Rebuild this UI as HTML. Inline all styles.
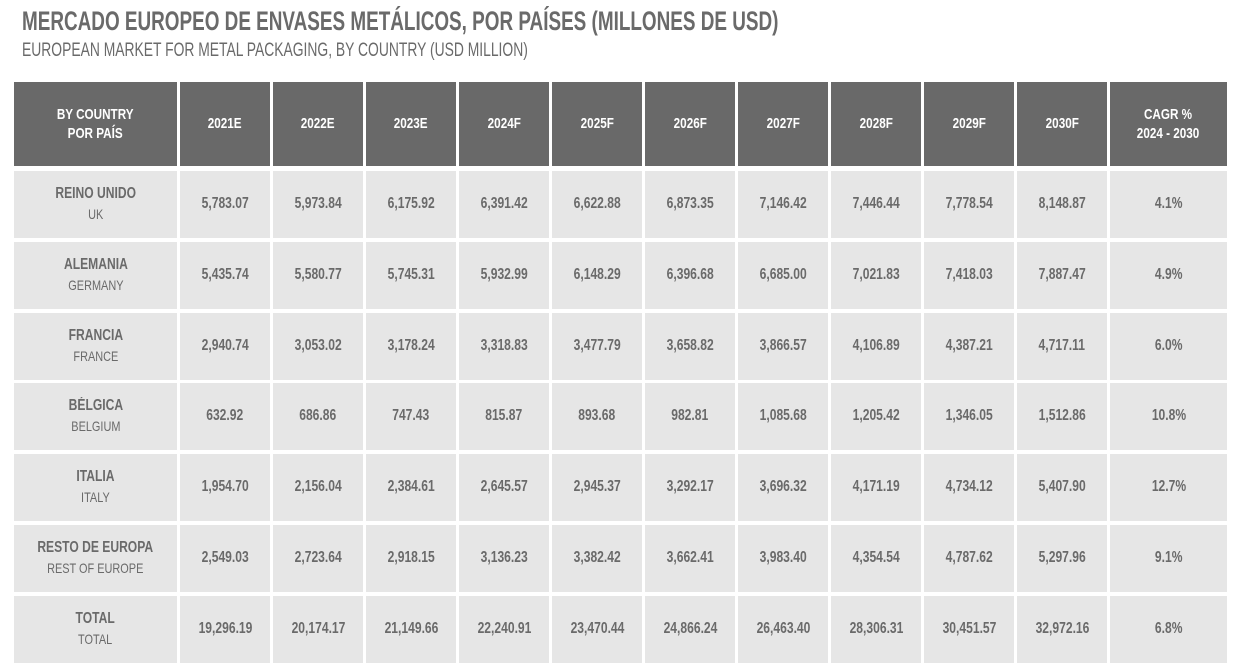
<!DOCTYPE html>
<html><head><meta charset="utf-8">
<style>
body{margin:0;width:1236px;height:670px;background:#fff;position:relative;overflow:hidden;font-family:"Liberation Sans",sans-serif;}
.t{position:absolute;left:22px;white-space:nowrap;transform-origin:0 0;color:#6a6a6a;}
.c{position:absolute;display:flex;align-items:center;justify-content:center;text-align:center;overflow:visible;}
.c span{display:inline-block;transform:scaleX(0.78);white-space:nowrap;line-height:1.3;}
.h{background:#696969;color:#fff;font-weight:bold;font-size:15px;}
.d{background:#e6e6e6;color:#6a6a6a;font-weight:bold;font-size:15.5px;}
.sub{font-weight:normal;font-size:14px;}
</style></head><body>
<div class="t" style="top:6px;font-size:27px;font-weight:bold;transform:scaleX(0.70);">MERCADO EUROPEO DE ENVASES METÁLICOS, POR PAÍSES (MILLONES DE USD)</div>
<div class="t" style="top:40px;font-size:19px;transform:scaleX(0.73);">EUROPEAN MARKET FOR METAL PACKAGING, BY COUNTRY (USD MILLION)</div>
<div id="tbl"></div>
<script>
const years=["2021E","2022E","2023E","2024F","2025F","2026F","2027F","2028F","2029F","2030F"];
const countriesEs=["REINO UNIDO","ALEMANIA","FRANCIA","BÉLGICA","ITALIA","RESTO DE EUROPA","TOTAL"];
const countriesEn=["UK","GERMANY","FRANCE","BELGIUM","ITALY","REST OF EUROPE","TOTAL"];
const values=[
["5,783.07","5,973.84","6,175.92","6,391.42","6,622.88","6,873.35","7,146.42","7,446.44","7,778.54","8,148.87"],
["5,435.74","5,580.77","5,745.31","5,932.99","6,148.29","6,396.68","6,685.00","7,021.83","7,418.03","7,887.47"],
["2,940.74","3,053.02","3,178.24","3,318.83","3,477.79","3,658.82","3,866.57","4,106.89","4,387.21","4,717.11"],
["632.92","686.86","747.43","815.87","893.68","982.81","1,085.68","1,205.42","1,346.05","1,512.86"],
["1,954.70","2,156.04","2,384.61","2,645.57","2,945.37","3,292.17","3,696.32","4,171.19","4,734.12","5,407.90"],
["2,549.03","2,723.64","2,918.15","3,136.23","3,382.42","3,662.41","3,983.40","4,354.54","4,787.62","5,297.96"],
["19,296.19","20,174.17","21,149.66","22,240.91","23,470.44","24,866.24","26,463.40","28,306.31","30,451.57","32,972.16"]];
const cagr=["4.1%","4.9%","6.0%","10.8%","12.7%","9.1%","6.8%"];
const T=document.getElementById('tbl');
function cell(cls,x,y,w,h,html,name){
  const d=document.createElement('div');
  d.className='c '+cls;
  d.style.cssText=`left:${x}px;top:${y}px;width:${w}px;height:${h}px`;
  d.innerHTML='<span>'+html+'</span>';
  
  
  T.appendChild(d);
}
const colX=i=>180+i*93;
cell('h',14,82,163,84,'BY COUNTRY<br>POR PAÍS','header-country');
years.forEach((y,i)=>cell('h',colX(i),82,90,84,y,'header-year'));
cell('h',1110,82,117,84,'CAGR %<br>2024 - 2030','header-cagr');
countriesEs.forEach((c,r)=>{
  const y=Math.round(171+r*70.8);
  cell('d',14,y,163,67,c+'<br><span class="sub" style="transform:none">'+countriesEn[r]+'</span>','row-label');
  values[r].forEach((v,i)=>cell('d',colX(i),y,90,67,v,'value-cell'));
  cell('d',1110,y,117,67,cagr[r],'cagr-cell');
});
</script>
</body></html>
